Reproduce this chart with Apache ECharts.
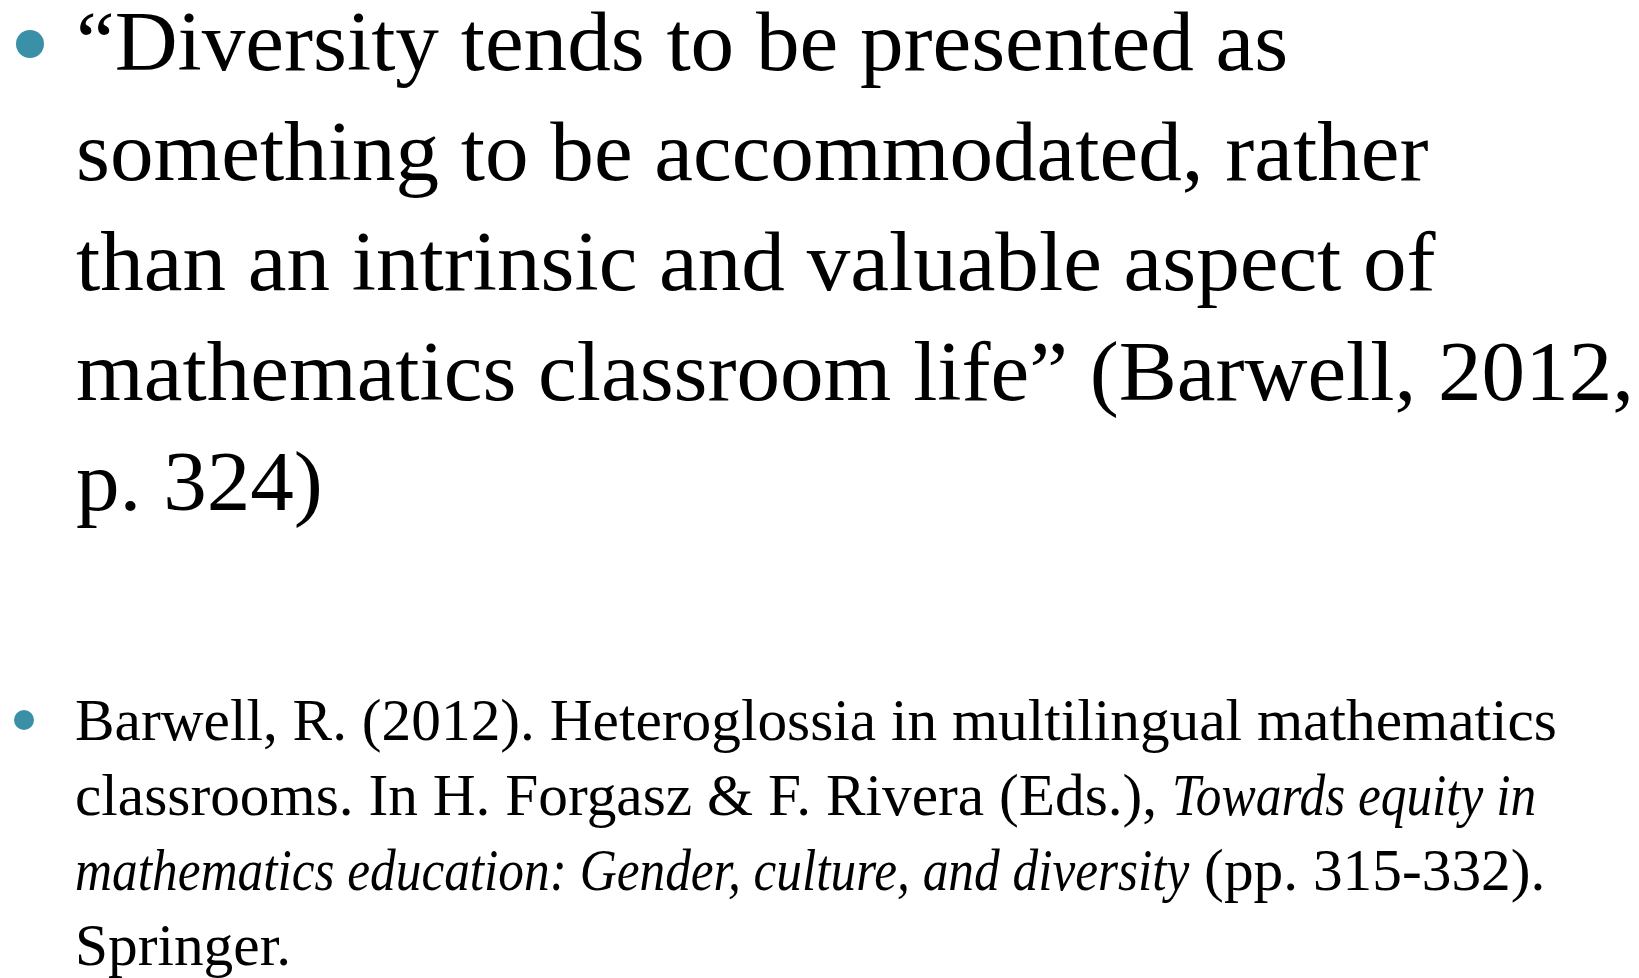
<!DOCTYPE html>
<html>
<head>
<meta charset="utf-8">
<script src="https://cdn.jsdelivr.net/npm/echarts@6/dist/echarts.min.js"></script>
<style>
html,body{margin:0;padding:0;background:#fff;}
#c{width:1639px;height:978px;}
</style>
</head>
<body>
<div id="c"></div>
<script>
// Slide content
const quoteLines = [
  '\u201CDiversity tends to be presented as',
  'something to be accommodated, rather',
  'than an intrinsic and valuable aspect of',
  'mathematics classroom life\u201D (Barwell, 2012,',
  'p. 324)'
];
// reference lines: segments of [text, italic]
const refLine1 = [['Barwell, R. (2012). Heteroglossia in multilingual mathematics', false]];
const refLine2 = [['classrooms. In H. Forgasz & F. Rivera (Eds.), ', false], ['Towards equity in', true]];
const refLine3 = [['mathematics education: Gender, culture, and diversity', true], [' (pp. 315-332).', false]];
const refLine4 = [['Springer.', false]];
const refLines = [refLine1, refLine2, refLine3, refLine4];

const FAMILY = '"Liberation Serif", "DejaVu Serif", serif';
const QF = 85, QSX = 1.025, QX = 76, QB0 = 72, QLH = 110;
const RF = 59, RSX = 1.006, RISX = 0.87, RX = 75, RB0 = 742, RLH = 75;
const BASE_OFF = 0.29;
const BULLET = '#3A90A6';

const ctx = document.createElement('canvas').getContext('2d');
function measure(text, size, italic) {
  ctx.font = (italic ? 'italic ' : '') + size + 'px ' + FAMILY;
  return ctx.measureText(text).width;
}

const chart = echarts.init(document.getElementById('c'), null, {renderer: 'canvas'});
const graphic = [];
graphic.push({type: 'circle', shape: {cx: 30, cy: 44, r: 14}, style: {fill: BULLET}});
graphic.push({type: 'circle', shape: {cx: 24, cy: 720, r: 10}, style: {fill: BULLET}});

quoteLines.forEach((t, k) => {
  graphic.push({
    type: 'text', x: QX, y: QB0 + k * QLH - BASE_OFF * QF, scaleX: QSX,
    style: {text: t, fontFamily: FAMILY, fontSize: QF, fill: '#000', verticalAlign: 'middle', align: 'left'}
  });
});

refLines.forEach((segs, k) => {
  let x = RX;
  segs.forEach(s => {
    const sx = s[1] ? RISX : RSX;
    graphic.push({
      type: 'text', x: x, y: RB0 + k * RLH - BASE_OFF * RF, scaleX: sx,
      style: {
        text: s[0], fontFamily: FAMILY, fontSize: RF, fontStyle: s[1] ? 'italic' : 'normal',
        fill: '#000', verticalAlign: 'middle', align: 'left'
      }
    });
    x += measure(s[0], RF, s[1]) * sx;
  });
});

chart.setOption({backgroundColor: '#ffffff', animation: false, graphic: graphic});
</script>
</body>
</html>
